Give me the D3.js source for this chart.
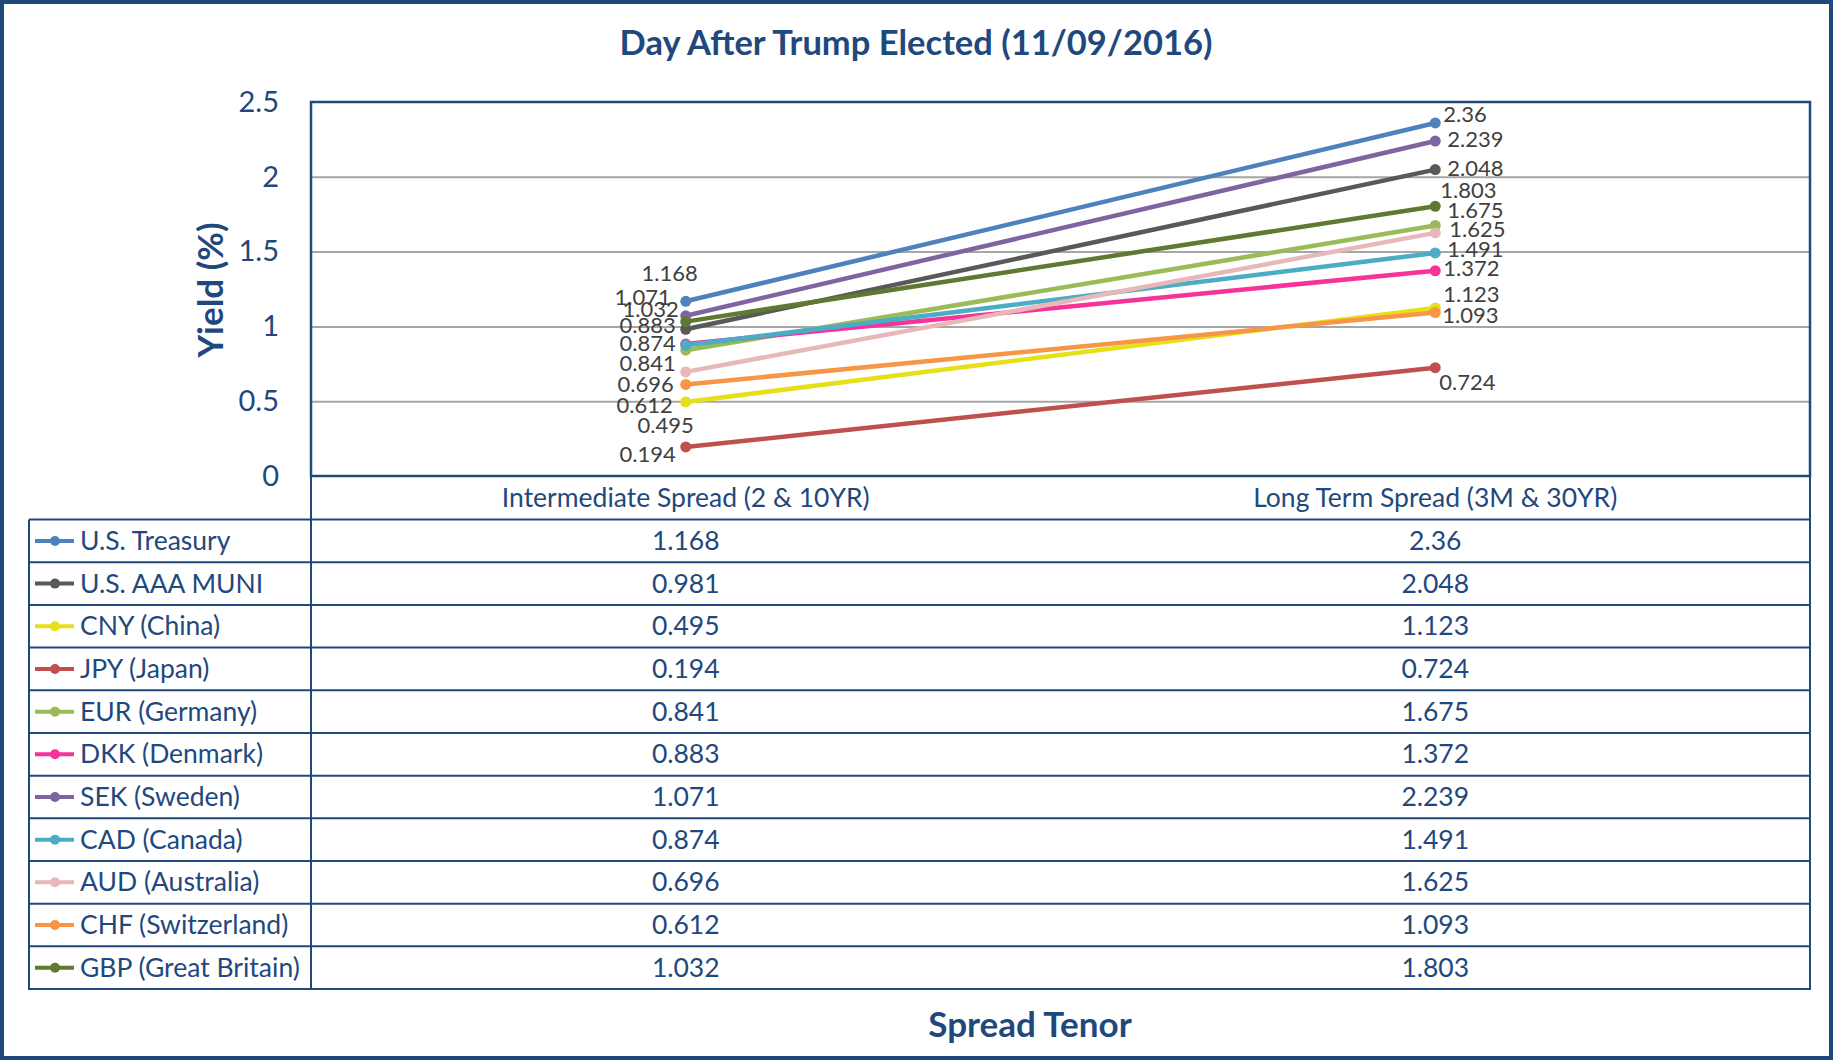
<!DOCTYPE html>
<html>
<head>
<meta charset="utf-8">
<script src="https://cdn.jsdelivr.net/npm/d3@7"></script>
<style>
   body { margin: 0; background: #fff; }
   svg { display: block; font-family: Lato, "Open Sans", sans-serif; }
</style>
</head>
<body>
<svg width="1833" height="1060"></svg>
<script>
// chart values
var categories = ["Intermediate Spread (2 & 10YR)", "Long Term Spread (3M & 30YR)"];
var seriesNames = ["U.S. Treasury", "U.S. AAA MUNI", "CNY (China)", "JPY (Japan)", "EUR (Germany)",
   "DKK (Denmark)", "SEK (Sweden)", "CAD (Canada)", "AUD (Australia)", "CHF (Switzerland)", "GBP (Great Britain)"];
var intermediate = [1.168, 0.981, 0.495, 0.194, 0.841, 0.883, 1.071, 0.874, 0.696, 0.612, 1.032];
var longTerm = [2.36, 2.048, 1.123, 0.724, 1.675, 1.372, 2.239, 1.491, 1.625, 1.093, 1.803];
var yTicks = [0, 0.5, 1, 1.5, 2, 2.5];

var seriesColors = ["#4f81bd", "#595959", "#e6e01a", "#c0504d", "#9bbb59", "#f7339a",
   "#8064a2", "#4bacc6", "#e6b9b8", "#f79646", "#5f7a30"];

// where excel left each data label, relative to its point (null = hidden)
var leftLabelNudge = [[12, -20], null, [8, 31], [-10, 15], [-10, 21], [-10, -11],
   [-15, -11], [-10, 6], [-12, 20], [-13, 29], [-7, -5]];
var rightLabelNudge = [[8, -1], [12, 6], [8, -6], [4, 22], [12, -7], [8, 5],
   [12, 6], [12, 4], [14, 4], [7, 11], [5, -8]];

(function () {
   var svg = d3.select("svg");
   var navy = "#1f497d";

   var plot = {left: 311, right: 1810, top: 102, bottom: 476};
   var table = {left: 29, top: 519.6, bottom: 989};

   var x = d3.scaleBand().domain(categories).range([plot.left, plot.right]);
   var y = d3.scaleLinear().domain([0, 2.5]).range([plot.bottom, plot.top]);
   var rows = d3.scaleBand().domain(seriesNames).range([table.top, table.bottom]);

   var series = seriesNames.map(function (name, i) {
      return {
         name: name,
         color: seriesColors[i],
         index: i,
         values: [intermediate[i], longTerm[i]]
      };
   });

   function cx(k) {
      return x(categories[k]) + x.bandwidth() / 2;
   }

   // outer frame
   svg.append("rect")
      .attr("x", 2).attr("y", 2)
      .attr("width", 1829).attr("height", 1056)
      .attr("fill", "none").attr("stroke", navy).attr("stroke-width", 4);

   svg.append("text")
      .attr("x", 916).attr("y", 55)
      .attr("text-anchor", "middle")
      .attr("font-size", 34.5).attr("font-weight", "bold")
      .attr("fill", navy)
      .text("Day After Trump Elected (11/09/2016)");

   // gridlines
   svg.append("g")
      .attr("transform", "translate(" + plot.left + ",0)")
      .call(d3.axisLeft(y).tickValues(yTicks.slice(1, -1)).tickSize(-(plot.right - plot.left)).tickFormat(""))
      .call(function (g) {
         g.select(".domain").remove();
         g.selectAll("line").attr("stroke", "#a6a6a6").attr("stroke-width", 2);
      });

   // y tick labels
   svg.append("g")
      .attr("transform", "translate(" + (plot.left - 32) + ",0)")
      .call(d3.axisLeft(y).tickValues(yTicks).tickSize(0).tickPadding(0).tickFormat(d3.format("")))
      .call(function (g) {
         g.select(".domain").remove();
         g.selectAll("text")
            .attr("font-family", "Lato, sans-serif")
            .attr("font-size", 29)
            .attr("fill", navy);
      });

   svg.append("text")
      .attr("transform", "translate(223,290) rotate(-90)")
      .attr("text-anchor", "middle")
      .attr("font-size", 35).attr("font-weight", "bold")
      .attr("fill", navy)
      .text("Yield (%)");

   // lines + markers
   var line = d3.line()
      .x(function (d, k) { return cx(k); })
      .y(function (d) { return y(d); });

   var serieGroups = svg.append("g").selectAll(".serie")
      .data(series).enter().append("g")
      .attr("class", "serie");

   serieGroups.append("path")
      .attr("d", function (d) { return line(d.values); })
      .attr("fill", "none")
      .attr("stroke", function (d) { return d.color; })
      .attr("stroke-width", 4.5)
      .attr("stroke-linecap", "round");

   serieGroups.selectAll("circle")
      .data(function (d) { return d.values.map(function (v) { return {v: v, color: d.color}; }); })
      .enter().append("circle")
      .attr("cx", function (d, k) { return cx(k); })
      .attr("cy", function (d) { return y(d.v); })
      .attr("r", 5.5)
      .attr("fill", function (d) { return d.color; });

   // data labels
   var labels = svg.append("g")
      .attr("font-size", 22)
      .attr("fill", "#404040");

   series.forEach(function (s) {
      var ln = leftLabelNudge[s.index], rn = rightLabelNudge[s.index];
      if (ln) {
         labels.append("text")
            .attr("x", cx(0) + ln[0]).attr("y", y(s.values[0]) + ln[1])
            .attr("text-anchor", "end")
            .text(s.values[0]);
      }
      if (rn) {
         labels.append("text")
            .attr("x", cx(1) + rn[0]).attr("y", y(s.values[1]) + rn[1])
            .attr("text-anchor", "start")
            .text(s.values[1]);
      }
   });

   // plot border
   svg.append("rect")
      .attr("x", plot.left).attr("y", plot.top)
      .attr("width", plot.right - plot.left).attr("height", plot.bottom - plot.top)
      .attr("fill", "none").attr("stroke", navy).attr("stroke-width", 2.5);

   // data table
   var tableG = svg.append("g").attr("fill", navy).attr("font-size", 26.5);

   tableG.selectAll(".head")
      .data(categories).enter().append("text")
      .attr("class", "head")
      .attr("x", function (d, k) { return cx(k); })
      .attr("y", (plot.bottom + table.top) / 2 + 9)
      .attr("text-anchor", "middle")
      .text(function (d) { return d; });

   var rowLines = [table.top].concat(seriesNames.map(function (n) { return rows(n) + rows.bandwidth(); }));
   tableG.selectAll(".rowline")
      .data(rowLines).enter().append("line")
      .attr("x1", table.left).attr("x2", plot.right)
      .attr("y1", function (d) { return d; }).attr("y2", function (d) { return d; })
      .attr("stroke", navy).attr("stroke-width", 2);

   [[table.left, table.top], [plot.left, plot.bottom], [plot.right, plot.bottom]].forEach(function (v) {
      tableG.append("line")
         .attr("x1", v[0]).attr("x2", v[0])
         .attr("y1", v[1]).attr("y2", table.bottom + 1)
         .attr("stroke", navy).attr("stroke-width", 2);
   });

   var row = tableG.selectAll(".row")
      .data(series).enter().append("g")
      .attr("class", "row")
      .attr("transform", function (d) { return "translate(0," + (rows(d.name) + rows.bandwidth() / 2) + ")"; });

   row.append("line")
      .attr("x1", table.left + 6).attr("x2", table.left + 45)
      .attr("stroke", function (d) { return d.color; })
      .attr("stroke-width", 4);

   row.append("circle")
      .attr("cx", table.left + 26).attr("r", 5)
      .attr("fill", function (d) { return d.color; });

   row.append("text")
      .attr("x", table.left + 51).attr("y", 9)
      .text(function (d) { return d.name; });

   row.selectAll(".val")
      .data(function (d) { return d.values; })
      .enter().append("text")
      .attr("class", "val")
      .attr("x", function (d, k) { return cx(k); })
      .attr("y", 9)
      .attr("text-anchor", "middle")
      .text(function (d) { return d; });

   svg.append("text")
      .attr("x", 1030).attr("y", 1037)
      .attr("text-anchor", "middle")
      .attr("font-size", 35).attr("font-weight", "bold")
      .attr("fill", navy)
      .text("Spread Tenor");
})();
</script>
</body>
</html>
